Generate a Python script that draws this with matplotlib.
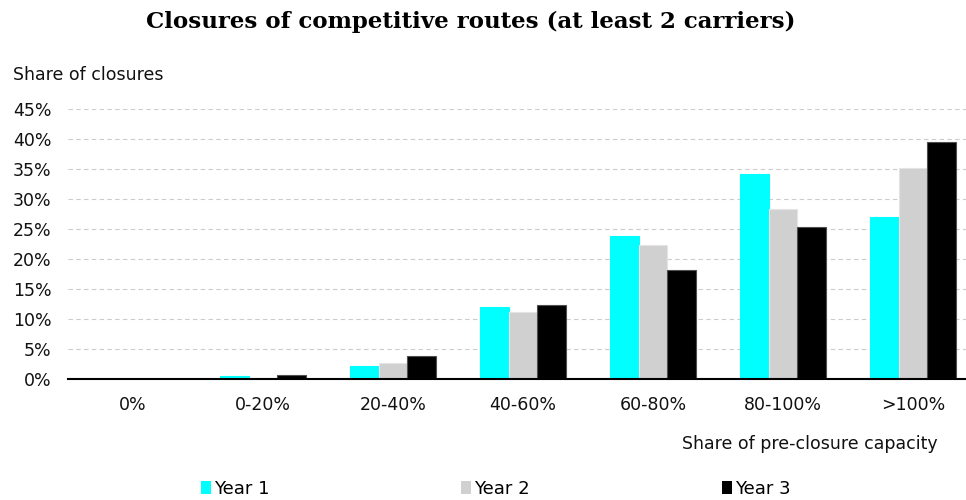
import numpy as np
import matplotlib
matplotlib.use('Agg')
import matplotlib.pyplot as plt
from matplotlib.patches import Patch
from matplotlib.ticker import PercentFormatter

# --- dados ---
categorias = ['0%', '0-20%', '20-40%', '40-60%', '60-80%', '80-100%', '>100%']
ano1 = [0.0, 0.5, 2.2, 12.05, 23.9, 34.2, 27.0]
ano2 = [0.0, 0.15, 2.7, 11.2, 22.3, 28.3, 35.2]
ano3 = [0.0, 0.6, 3.8, 12.4, 18.2, 25.3, 39.6]
series = ['Year 1', 'Year 2', 'Year 3']
cores = ['#00ffff', '#d0d0d0', '#000000']
bordas = ['#00ffff', '#e4e4e4', '#505050']

plt.rcParams['font.family'] = ['DejaVu Sans']

fig = plt.figure(figsize=(9.66, 5.0), dpi=100)
ax = fig.add_axes([68 / 966, 1 - 379 / 500, 910 / 966, (379 - 109.3) / 500])

x = np.arange(len(categorias))
larg = 0.223
for i, (vals, nome) in enumerate(zip([ano1, ano2, ano3], series)):
    ax.bar(x + (i - 1) * larg, vals, width=larg, color=cores[i],
           edgecolor=bordas[i], linewidth=0.8, label=nome, zorder=3)

ax.set_xlim(-0.5, len(categorias) - 0.5)
ax.set_ylim(0, 45)
ax.set_yticks(np.arange(0, 46, 5))
ax.yaxis.set_major_formatter(PercentFormatter(decimals=0))
ax.set_xticks(x)
ax.set_xticklabels(categorias)
ax.tick_params(axis='both', length=0, labelsize=12.5, colors='#111111')
ax.tick_params(axis='x', pad=12)
ax.tick_params(axis='y', pad=12)
ax.grid(axis='y', linestyle=(0, (4, 3)), color='#cccccc', linewidth=0.8, zorder=0)
for lado in ['top', 'right', 'left']:
    ax.spines[lado].set_visible(False)
ax.spines['bottom'].set_linewidth(1.5)
ax.spines['bottom'].set_zorder(4)

fig.text(471 / 966, 1 - 22 / 500, 'Closures of competitive routes (at least 2 carriers)',
         ha='center', va='center', fontsize=16.5, fontweight='bold', family='DejaVu Serif')
fig.text(13 / 966, 1 - 75 / 500, 'Share of closures', ha='left', va='center',
         fontsize=12.5, color='#111111')
fig.text(938 / 966, 1 - 444 / 500, 'Share of pre-closure capacity', ha='right',
         va='center', fontsize=12.5, color='#111111')

alcas = [Patch(facecolor=c, edgecolor='none') for c in cores]
fig.legend(alcas, series, loc='center left', bbox_to_anchor=(201 / 966, 1 - 489 / 500),
           ncol=3, frameon=False, fontsize=13, handlelength=0.55, handleheight=0.75,
           handletextpad=0.15, columnspacing=10.65, borderaxespad=0, borderpad=0)

fig.savefig('out.png', dpi=100)
